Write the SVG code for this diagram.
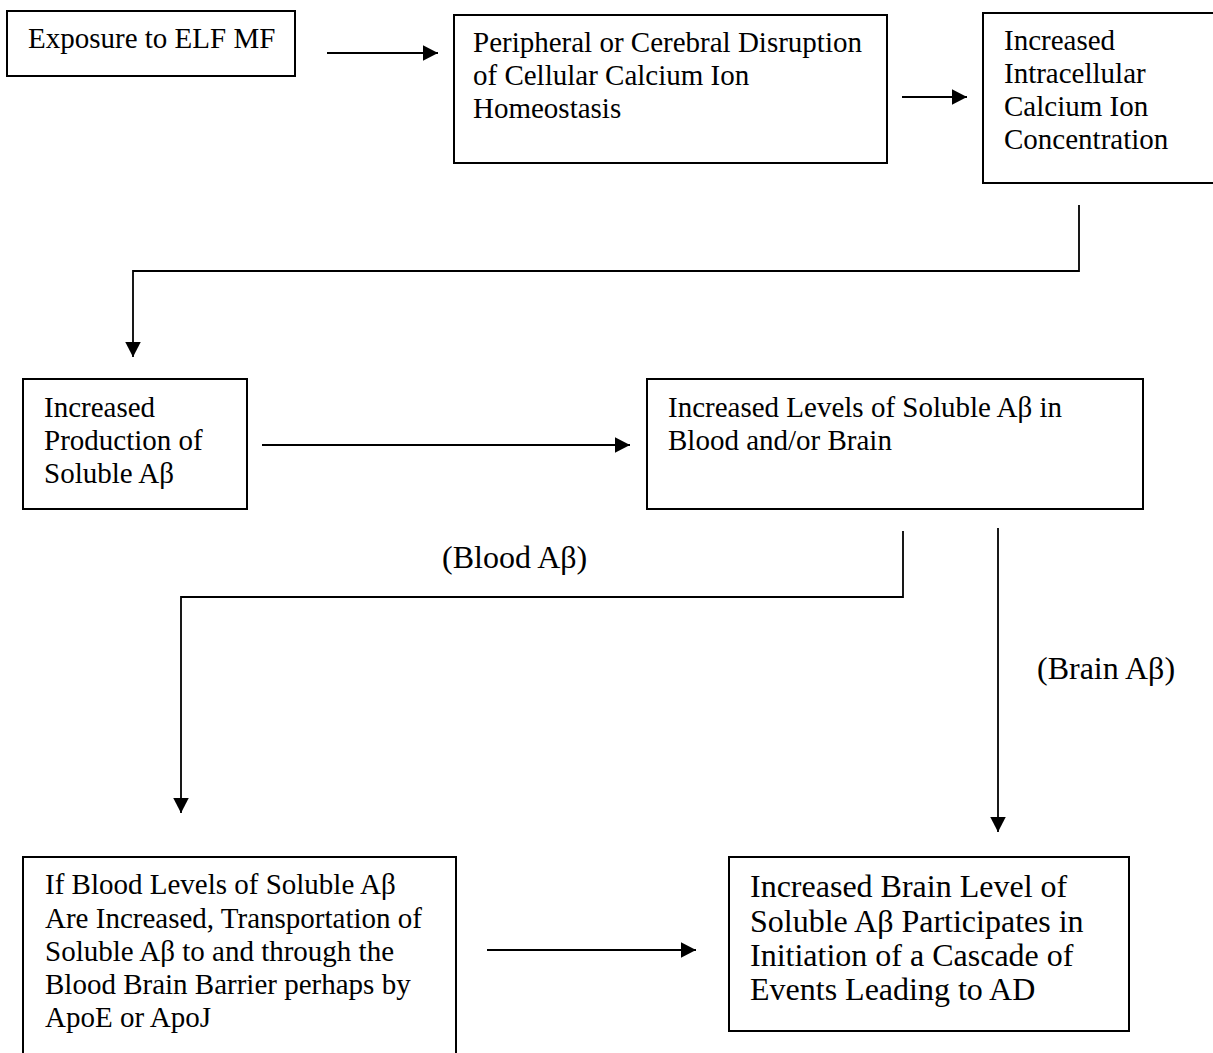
<svg xmlns="http://www.w3.org/2000/svg" width="1213" height="1053" viewBox="0 0 1213 1053">
<style>
.box{fill:#fff;stroke:#000;stroke-width:2}
.t{font-family:"Liberation Serif","Times New Roman",serif;font-size:29px;fill:#000}
.t7{font-size:32px}
.conn{fill:none;stroke:#000;stroke-width:1.8}
</style>
<defs>
<marker id="ah" markerUnits="userSpaceOnUse" markerWidth="16" markerHeight="16" refX="15" refY="7.75" orient="auto">
<path d="M0,0 L15,7.75 L0,15.5 z" fill="#000"/>
</marker>
</defs>
<rect width="1213" height="1053" fill="#fff"/>
<g id="connectors">
<path class="conn" d="M327,53 H438" marker-end="url(#ah)"/>
<path class="conn" d="M902,97 H967" marker-end="url(#ah)"/>
<path class="conn" d="M1079,205 V271 H133 V357" marker-end="url(#ah)"/>
<path class="conn" d="M262,445 H630" marker-end="url(#ah)"/>
<path class="conn" d="M903,531 V597 H181 V813" marker-end="url(#ah)"/>
<path class="conn" d="M998,528 V832" marker-end="url(#ah)"/>
<path class="conn" d="M487,950 H696" marker-end="url(#ah)"/>
<text class="t t7" x="442" y="568">(Blood Aβ)</text>
<text class="t t7" x="1037" y="679">(Brain Aβ)</text>
</g>
<g id="n1">
<rect class="box" x="7" y="11" width="288" height="65"/>
<text class="t" x="28" y="48">Exposure to ELF MF</text>
</g>
<g id="n2">
<rect class="box" x="454" y="15" width="433" height="148"/>
<text class="t" x="473" y="52">Peripheral or Cerebral Disruption</text>
<text class="t" x="473" y="85">of Cellular Calcium Ion</text>
<text class="t" x="473" y="118">Homeostasis</text>
</g>
<g id="n3">
<rect class="box" x="983" y="13" width="240" height="170"/>
<text class="t" x="1004" y="50">Increased</text>
<text class="t" x="1004" y="83">Intracellular</text>
<text class="t" x="1004" y="116">Calcium Ion</text>
<text class="t" x="1004" y="149">Concentration</text>
</g>
<g id="n4">
<rect class="box" x="23" y="379" width="224" height="130"/>
<text class="t" x="44" y="417">Increased</text>
<text class="t" x="44" y="450">Production of</text>
<text class="t" x="44" y="483">Soluble Aβ</text>
</g>
<g id="n5">
<rect class="box" x="647" y="379" width="496" height="130"/>
<text class="t" x="668" y="417">Increased Levels of Soluble Aβ in</text>
<text class="t" x="668" y="450">Blood and/or Brain</text>
</g>
<g id="n6">
<rect class="box" x="23" y="857" width="433" height="210"/>
<text class="t" x="45" y="894">If Blood Levels of Soluble Aβ</text>
<text class="t" x="45" y="928">Are Increased, Transportation of</text>
<text class="t" x="45" y="961">Soluble Aβ to and through the</text>
<text class="t" x="45" y="994">Blood Brain Barrier perhaps by</text>
<text class="t" x="45" y="1027">ApoE or ApoJ</text>
</g>
<g id="n7">
<rect class="box" x="729" y="857" width="400" height="174"/>
<text class="t t7" x="750" y="897">Increased Brain Level of</text>
<text class="t t7" x="750" y="932">Soluble Aβ Participates in</text>
<text class="t t7" x="750" y="966">Initiation of a Cascade of</text>
<text class="t t7" x="750" y="1000">Events Leading to AD</text>
</g>
</svg>
